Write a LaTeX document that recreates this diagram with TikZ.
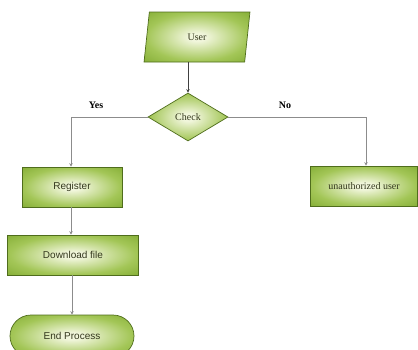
\documentclass[tikz,border=0pt]{standalone}
\usepackage{fontspec}
\setmainfont{Liberation Serif}
\newfontfamily\sansf{Liberation Sans}
\usetikzlibrary{shapes.geometric,shapes.misc,arrows.meta}
\definecolor{gouter}{HTML}{76A226}
\definecolor{gmid}{HTML}{A3C657}
\definecolor{ginner}{HTML}{F1F6DC}
\definecolor{gborder}{HTML}{4F6D1C}
\definecolor{gtext}{HTML}{33371C}
\pgfdeclareradialshading{glow}{\pgfpoint{0bp}{0bp}}{color(0bp)=(ginner); color(4bp)=(ginner); color(24bp)=(gmid); color(42bp)=(gouter); color(50bp)=(gouter)}
\begin{document}
\begin{tikzpicture}[x=1pt,y=-1pt,
  box/.style={draw=gborder, line width=0.7pt, shading=glow, text=gtext,
    font=\fontsize{10}{12}\selectfont, inner sep=0pt},
  sbox/.style={box, font=\sansf\fontsize{10}{12}\selectfont},
  flow/.style={draw=black!45, line width=0.8pt, -{Stealth[length=3.5pt,width=3.5pt]}},
  darkflow/.style={flow, draw=black!75},
  lbl/.style={font=\bfseries\fontsize{10}{12}\selectfont, text=black, inner sep=0pt}]
\useasboundingbox (0,0) rectangle (418,349);
\begin{scope}
\clip (0,0) rectangle (418,349);
\node[box, trapezium, trapezium left angle=81, trapezium right angle=99,
      trapezium stretches=true, minimum width=106pt, minimum height=50pt] (user) at (197,37) {User};
\node[box, diamond, aspect=1.667, minimum width=80pt, minimum height=48pt] (check) at (188,117) {Check};
\node[sbox, rectangle, minimum width=100pt, minimum height=40pt] (reg) at (72,187) {Register};
\node[box, rectangle, minimum width=107pt, minimum height=40pt] (unauth) at (364,186) {unauthorized user};
\node[sbox, rectangle, minimum width=131pt, minimum height=40pt] (down) at (73,255) {Download file};
\node[sbox, rounded rectangle, minimum width=124pt, minimum height=42pt] (endp) at (72,336) {End Process};
\end{scope}
\coordinate (ly) at (71,117);
\coordinate (ry) at (366,117);
\draw[darkflow] (user.south -| check.north) -- (check.north);
\draw[flow] (check.west) -- (ly) -- (ly |- reg.north);
\draw[flow] (check.east) -- (ry) -- (ry |- unauth.north);
\draw[flow] (reg.south -| ly) -- (down.north -| ly);
\draw[flow] (down.south -| reg) -- (endp.north -| reg);
\node[lbl] (yes) at (96,105) {Yes};
\node[lbl] (no) at (285,105) {No};
\end{tikzpicture}
\end{document}
